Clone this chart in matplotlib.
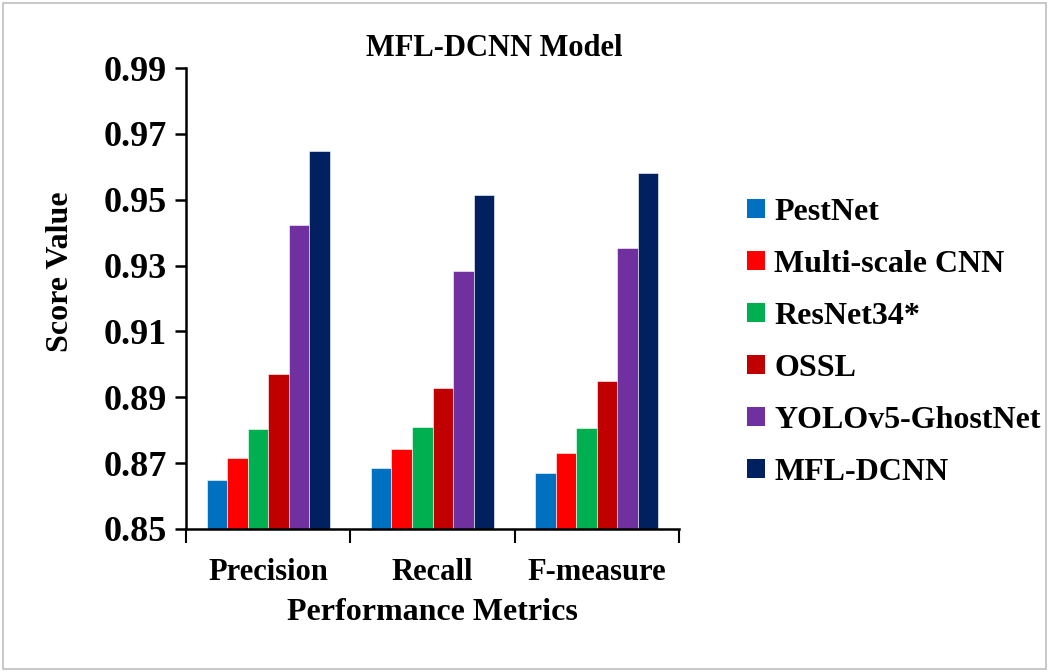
import numpy as np
import matplotlib
matplotlib.use("Agg")
import matplotlib.pyplot as plt
from matplotlib.patches import Patch, Rectangle

metrics = ["Precision", "Recall", "F-measure"]
models = ["PestNet", "Multi-scale CNN", "ResNet34*", "OSSL", "YOLOv5-GhostNet", "MFL-DCNN"]
colors = ["#0070C0", "#FF0000", "#00B050", "#C00000", "#7030A0", "#002060"]

pestnet = [0.8649, 0.8686, 0.8669]
multiscale_cnn = [0.8717, 0.8744, 0.8731]
resnet34 = [0.8803, 0.8810, 0.8808]
ossl = [0.8971, 0.8928, 0.8950]
yolov5_ghostnet = [0.9424, 0.9284, 0.9353]
mfl_dcnn = [0.9649, 0.9513, 0.9581]

yticks = [0.85, 0.87, 0.89, 0.91, 0.93, 0.95, 0.97, 0.99]

series = [pestnet, multiscale_cnn, resnet34, ossl, yolov5_ghostnet, mfl_dcnn]

plt.rcParams["font.family"] = ["Liberation Serif", "DejaVu Serif"]
plt.rcParams["font.weight"] = "bold"

fig = plt.figure(figsize=(10.49, 6.72), dpi=100)
ax = fig.add_axes([0.1773, 0.2128, 0.4700, 0.6860])

x = np.arange(len(metrics))
w = 0.1248
for i, (vals, c) in enumerate(zip(series, colors)):
    ax.bar(x + (i - 2.5) * w, np.array(vals) - 0.85, width=w, bottom=0.85,
           color=c, edgecolor="white", linewidth=0.4, label=models[i])

ax.set_ylim(0.85, 0.99)
ax.set_xlim(-0.5, 2.5)
ax.set_yticks(yticks)
ax.set_yticklabels(["%.2f" % v for v in yticks], fontsize=26, fontweight="bold")
ax.tick_params(axis="y", direction="out", length=8, width=1.8, pad=6)

# category boundary ticks + labels in between
ax.set_xticks([-0.5, 0.5, 1.5, 2.5])
ax.set_xticklabels([])
ax.tick_params(axis="x", which="major", direction="out", length=10, width=1.5)
ax.set_xticks(x, minor=True)
ax.set_xticklabels(metrics, minor=True, fontsize=22, fontweight="bold")
ax.tick_params(axis="x", which="minor", length=0, pad=21)

for s in ["top", "right"]:
    ax.spines[s].set_visible(False)
ax.spines["left"].set_linewidth(1.8)
ax.spines["bottom"].set_linewidth(1.8)

fig.text(0.471, 0.928, "MFL-DCNN Model", ha="center", va="center",
         fontsize=22, fontweight="bold")
fig.text(0.058, 0.595, "Score Value", rotation=90, ha="center", va="center",
         fontsize=23, fontweight="bold")
fig.text(0.412, 0.088, "Performance Metrics", ha="center", va="center",
         fontsize=23, fontweight="bold")

handles = [Patch(facecolor=c, edgecolor="none") for c in colors]
fig.legend(handles, models, loc="upper left", bbox_to_anchor=(0.700, 0.725),
           frameon=False, prop={"size": 23, "weight": "bold"},
           handlelength=0.55, handleheight=0.55, handletextpad=0.3,
           labelspacing=0.72, borderaxespad=0)

fig.patches.append(Rectangle((0.003, 0.004), 0.994, 0.992, transform=fig.transFigure,
                             fill=False, edgecolor="#BFBFBF", linewidth=1.2))

fig.savefig("out.png", dpi=100)
